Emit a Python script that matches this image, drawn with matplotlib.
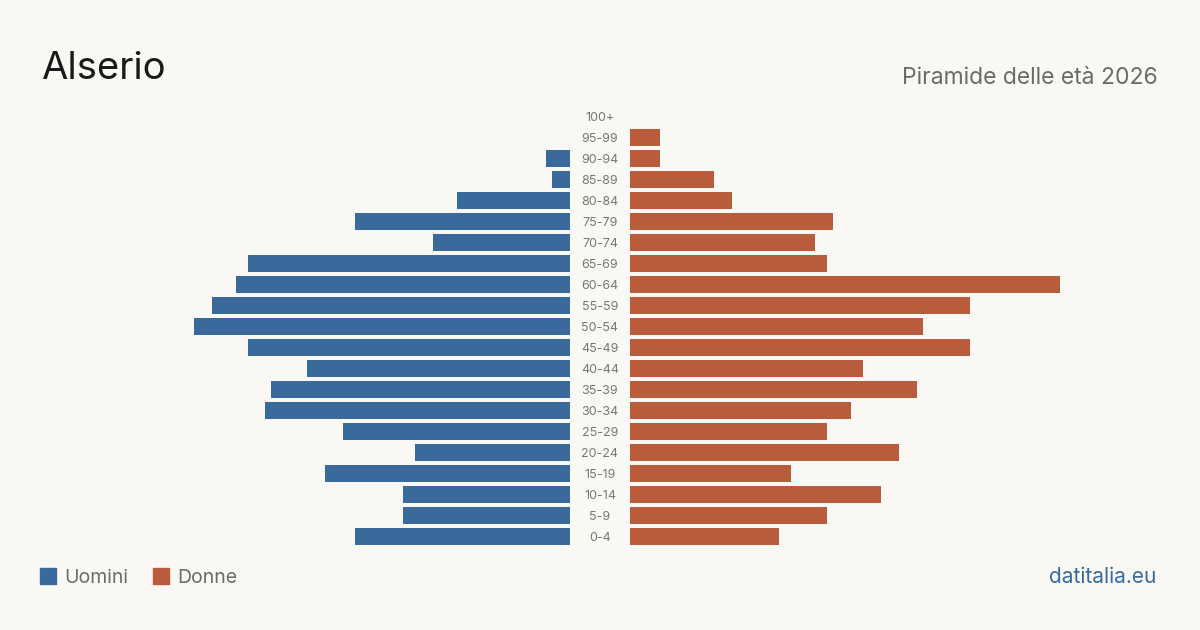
import matplotlib.pyplot as plt
from matplotlib.patches import Rectangle

ages = ['0-4', '5-9', '10-14', '15-19', '20-24', '25-29', '30-34', '35-39',
        '40-44', '45-49', '50-54', '55-59', '60-64', '65-69', '70-74',
        '75-79', '80-84', '85-89', '90-94', '95-99', '100+']
uomini = [36, 28, 28, 41, 26, 38, 51, 50, 44, 54, 63, 60, 56, 54, 23,
          36, 19, 3, 4, 0, 0]
donne = [25, 33, 42, 27, 45, 33, 37, 48, 39, 57, 49, 57, 72, 33, 31,
         34, 17, 14, 5, 5, 0]

bg = '#f9f8f4'
blue = '#3a6a9b'
red = '#b95c3c'

plt.rcParams['font.family'] = ['Inter', 'DejaVu Sans']

fig = plt.figure(figsize=(12, 6.3), dpi=100, facecolor=bg)
ax = fig.add_axes([0, 0, 1, 1])
ax.set_facecolor(bg)

px = 430 / max(donne)          # pixels per person
gap = 30 / px                  # half of the centre gap
ax.set_xlim(-600 / px, 600 / px)
ax.set_ylim((536.5 - 630) / 21, 536.5 / 21)
ax.axis('off')

y = list(range(len(ages)))
ax.barh(y, [-v for v in uomini], left=-gap, height=0.81, color=blue)
ax.barh(y, donne, left=gap, height=0.81, color=red)

for i, a in enumerate(ages):
    ax.text(0, i - 4.5 / 21, a, ha='center', va='baseline', fontsize=9,
            color='#777777')

fig.text(41 / 1200, 1 - 79 / 630, 'Alserio', fontsize=27.5, color='#1a1a1a',
         ha='left', va='baseline')
fig.text(1158 / 1200, 1 - 84 / 630, 'Piramide delle età 2026', fontsize=16.5,
         color='#6b6b6b', ha='right', va='baseline')

# legend
for x0, col, lab in [(40, blue, 'Uomini'), (153, red, 'Donne')]:
    fig.patches.append(Rectangle((x0 / 1200, 1 - 584 / 630), 16 / 1200, 16 / 630,
                                 transform=fig.transFigure, color=col))
    fig.text((x0 + 24) / 1200, 1 - 583 / 630, lab, fontsize=14,
             color='#6b6b6b', ha='left', va='baseline')

fig.text(1156 / 1200, 1 - 583 / 630, 'datitalia.eu', fontsize=15,
         color=blue, ha='right', va='baseline')

plt.savefig('out.png', facecolor=bg)
plt.close()
